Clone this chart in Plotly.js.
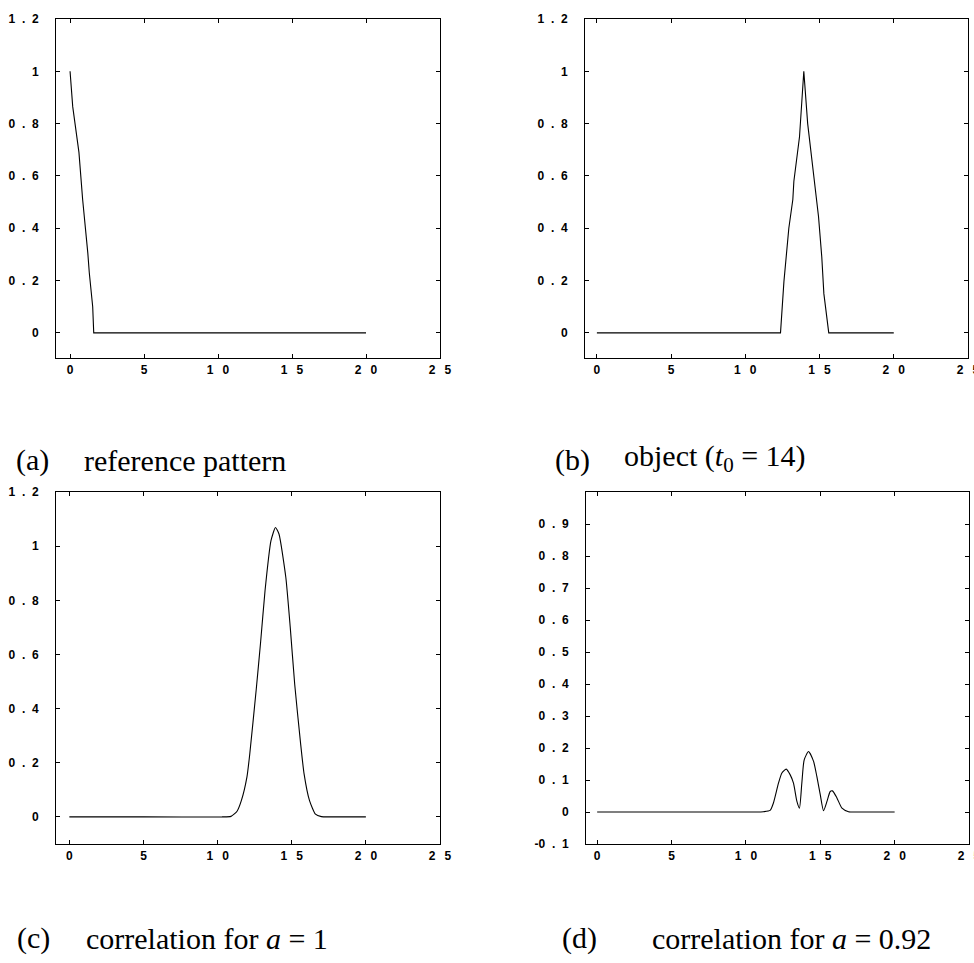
<!DOCTYPE html>
<html>
<head>
<meta charset="utf-8">
<script src="https://cdn.plot.ly/plotly-3.0.1.min.js"></script>
<style>html,body{margin:0;padding:0;background:#fff;}#chart{width:974px;height:963px;}</style>
</head>
<body>
<div id="chart"></div>
<script>
// (a) reference pattern
const xA = [0, 0.18, 0.6, 0.85, 1.2, 1.3, 1.53, 1.6, 20];
const yA = [1.0, 0.865, 0.69, 0.51, 0.305, 0.23, 0.1, 0.0, 0];
// (b) object (t0 = 14)
const xB = [0, 12.37, 12.6, 12.93, 13.2, 13.27, 13.65, 13.94, 14.2, 14.6, 14.93, 15.15, 15.29, 15.62, 20];
const yB = [0, 0, 0.196, 0.4, 0.51, 0.58, 0.75, 1.0, 0.8, 0.61, 0.445, 0.29, 0.15, 0, 0];
// (c) correlation for a = 1
const xC = [0, 5, 10.3, 10.9, 11.3, 11.6, 11.98, 12.16, 12.6, 12.9, 13.2, 13.6, 13.9, 14.14, 14.6, 14.9, 15.2, 15.6, 15.83, 16.2, 16.6, 17.0, 17.5, 20];
const yC = [0, 0, 0, 0.002, 0.02, 0.06, 0.148, 0.228, 0.468, 0.645, 0.836, 1.02, 1.069, 1.045, 0.885, 0.70, 0.49, 0.27, 0.16, 0.06, 0.01, 0.001, 0, 0];
// (d) correlation for a = 0.92
const xD = [0, 5, 10.7, 11.18, 11.63, 11.85, 12.19, 12.42, 12.71, 12.98, 13.2, 13.43, 13.6, 13.76, 13.92, 14.21, 14.55, 14.77, 15.0, 15.22, 15.45, 15.67, 15.82, 16.12, 16.46, 16.9, 17.4, 20];
const yD = [0, 0, 0, 0.001, 0.005, 0.028, 0.09, 0.122, 0.134, 0.116, 0.09, 0.033, 0.012, 0.09, 0.163, 0.189, 0.158, 0.111, 0.054, 0.004, 0.033, 0.064, 0.066, 0.044, 0.012, 0.001, 0, 0];

// tick labels
const xTickVals = [0, 5, 10, 15, 20, 25];
const xTickText = ["0", "5", "1\u2007\u20090", "1\u2007\u20095", "2\u2007\u20090", "2\u2007\u20095"];
const yTickVals = [0, 0.2, 0.4, 0.6, 0.8, 1, 1.2];
const yTickText = ["0", "0\u2007.\u20072", "0\u2007.\u20074", "0\u2007.\u20076", "0\u2007.\u20078", "1", "1\u2007.\u20072"];
const yTickValsD = [-0.1, 0, 0.1, 0.2, 0.3, 0.4, 0.5, 0.6, 0.7, 0.8, 0.9];
const yTickTextD = ["-0\u2007.\u20071", "0", "0\u2007.\u20071", "0\u2007.\u20072", "0\u2007.\u20073", "0\u2007.\u20074", "0\u2007.\u20075", "0\u2007.\u20076", "0\u2007.\u20077", "0\u2007.\u20078", "0\u2007.\u20079"];

// captions
const capLabels = ["(a)", "(b)", "(c)", "(d)"];
const capTexts = ["reference pattern", "object (<i>t</i><sub>0</sub> = 14)", "correlation for <i>a</i> = 1", "correlation for <i>a</i> = 0.92"];

const W = 974, H = 963;
const line = {color: "#000", width: 1.1};
const traces = [
  {x: xA, y: yA, xaxis: "x", yaxis: "y", mode: "lines", line: line},
  {x: xB, y: yB, xaxis: "x2", yaxis: "y2", mode: "lines", line: line},
  {x: xC, y: yC, xaxis: "x3", yaxis: "y3", mode: "lines", line: Object.assign({shape: "spline", smoothing: 0.5}, line)},
  {x: xD, y: yD, xaxis: "x4", yaxis: "y4", mode: "lines", line: Object.assign({shape: "spline", smoothing: 0.6}, line)}
];

const tickFont = {family: "Liberation Sans, Arial, sans-serif", size: 12, color: "#000", weight: "bold"};
function xax(l, r, rng, anchor) {
  return {domain: [l / W, r / W], range: rng, anchor: anchor, tickmode: "array", tickvals: xTickVals, ticktext: xTickText,
    showline: true, linecolor: "#000", linewidth: 1, mirror: "ticks", ticks: "inside", ticklen: 4, tickcolor: "#000",
    showgrid: false, zeroline: false, tickfont: tickFont, ticklabelstandoff: 1, ticklabeloverflow: "allow", fixedrange: true};
}
function yax(t, b, rng, anchor, tv, tt) {
  return {domain: [1 - b / H, 1 - t / H], range: rng, anchor: anchor, tickmode: "array", tickvals: tv, ticktext: tt,
    showline: true, linecolor: "#000", linewidth: 1, mirror: "ticks", ticks: "inside", ticklen: 4, tickcolor: "#000",
    showgrid: false, zeroline: false, tickfont: tickFont, ticklabelstandoff: 14, ticklabeloverflow: "allow", fixedrange: true};
}

const capFont = {family: "Liberation Serif, Times New Roman, serif", size: 30, color: "#000"};
const capPos = [[14, 82, 479], [553, 622, 479], [15, 84, 957], [560, 650, 957]];
const annotations = [];
capPos.forEach((p, i) => {
  annotations.push({xref: "paper", yref: "paper", x: p[0] / W, y: 1 - p[2] / H, xanchor: "left", yanchor: "bottom", text: capLabels[i], showarrow: false, font: capFont});
  annotations.push({xref: "paper", yref: "paper", x: p[1] / W, y: 1 - p[2] / H, xanchor: "left", yanchor: "bottom", text: capTexts[i], showarrow: false, font: capFont});
});

const layout = {
  width: W, height: H, margin: {l: 0, r: 0, t: 0, b: 0},
  paper_bgcolor: "#fff", plot_bgcolor: "#fff", showlegend: false,
  xaxis: xax(56, 440, [-0.95, 25], "y"),
  yaxis: yax(19, 358, [-0.096, 1.2], "x", yTickVals, yTickText),
  xaxis2: xax(585, 968, [-0.8, 25], "y2"),
  yaxis2: yax(19, 358, [-0.096, 1.2], "x2", yTickVals, yTickText),
  xaxis3: xax(56, 440, [-0.9, 25], "y3"),
  yaxis3: yax(492, 844, [-0.1, 1.2], "x3", yTickVals, yTickText),
  xaxis4: xax(586, 969, [-0.75, 25], "y4"),
  yaxis4: yax(492, 844, [-0.1, 1.0], "x4", yTickValsD, yTickTextD),
  annotations: annotations
};

Plotly.newPlot("chart", traces, layout, {staticPlot: true, displayModeBar: false});
</script>
</body>
</html>
